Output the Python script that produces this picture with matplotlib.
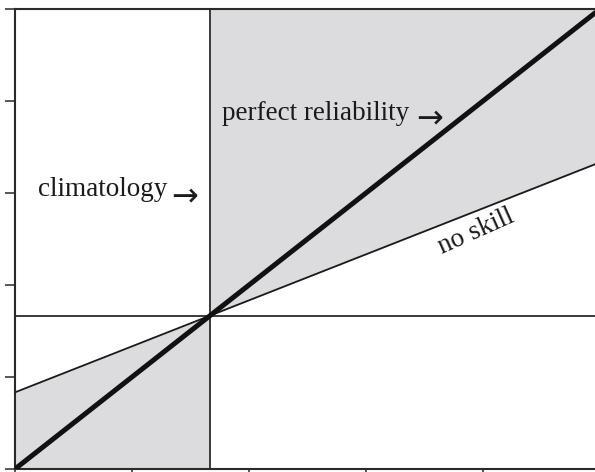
import matplotlib
matplotlib.use("Agg")
import matplotlib.pyplot as plt
import numpy as np

# data
x_ends = [0.0, 1.0]
perfect = [0.0, 1.0]
no_skill = [1/6, 2/3]
clim = 1/3
xticks = [0.0, 0.2, 0.4, 0.6, 0.8, 1.0]
yticks = [0.0, 0.2, 0.4, 0.6, 0.8, 1.0]

plt.rcParams['font.family'] = ['Liberation Serif', 'DejaVu Serif']

fig = plt.figure(figsize=(5.95, 4.72), dpi=100)
ax = fig.add_axes([15/595, 3/472, 585/595, 460/472])
ax.set_xlim(0, 1)
ax.set_ylim(0, 1)

gray = '#dcdcde'
xl = np.array([0.0, clim])
yl = np.interp(xl, x_ends, no_skill)
ax.fill_between(xl, 0, yl, color=gray, lw=0, zorder=1)
xr = np.array([clim, 1.0])
yr = np.interp(xr, x_ends, no_skill)
ax.fill_between(xr, yr, 1, color=gray, lw=0, zorder=1)

ax.axvline(clim, color='#3a3a3a', lw=1.4, zorder=2)
ax.axhline(clim, color='#3a3a3a', lw=1.4, zorder=2)
ax.plot(x_ends, no_skill, color='#1a1a1a', lw=1.3, zorder=3)
ax.plot(x_ends, perfect, color='#111111', lw=3.6, zorder=4, solid_capstyle='butt')

ax.set_xticks(xticks)
ax.set_yticks(yticks)
ax.set_xticklabels([])
ax.set_yticklabels([])
ax.tick_params(direction='out', length=7, width=1.2, color='#3a3a3a')
for s in ax.spines.values():
    s.set_color('#2a2a2a')
    s.set_linewidth(1.5)

fs = 19.5
def px(x, y):
    return (x - 15) / 585, (469 - y) / 460

ax.text(*px(222, 113), 'perfect reliability', fontsize=fs,
        ha='left', va='center', color='#1a1a1a', zorder=5)
ax.text(*px(416, 119), '\u2192', fontsize=23, family='DejaVu Sans',
        ha='left', va='center', color='#1a1a1a', zorder=5)
ax.text(*px(38, 190), 'climatology', fontsize=fs,
        ha='left', va='center', color='#1a1a1a', zorder=5)
ax.text(*px(171, 197), '\u2192', fontsize=23, family='DejaVu Sans',
        ha='left', va='center', color='#1a1a1a', zorder=5)
ax.text(*px(476, 232), 'no skill', fontsize=fs, rotation=24,
        ha='center', va='center', color='#1a1a1a', zorder=5, rotation_mode='anchor')

fig.savefig('out.png', dpi=100)
